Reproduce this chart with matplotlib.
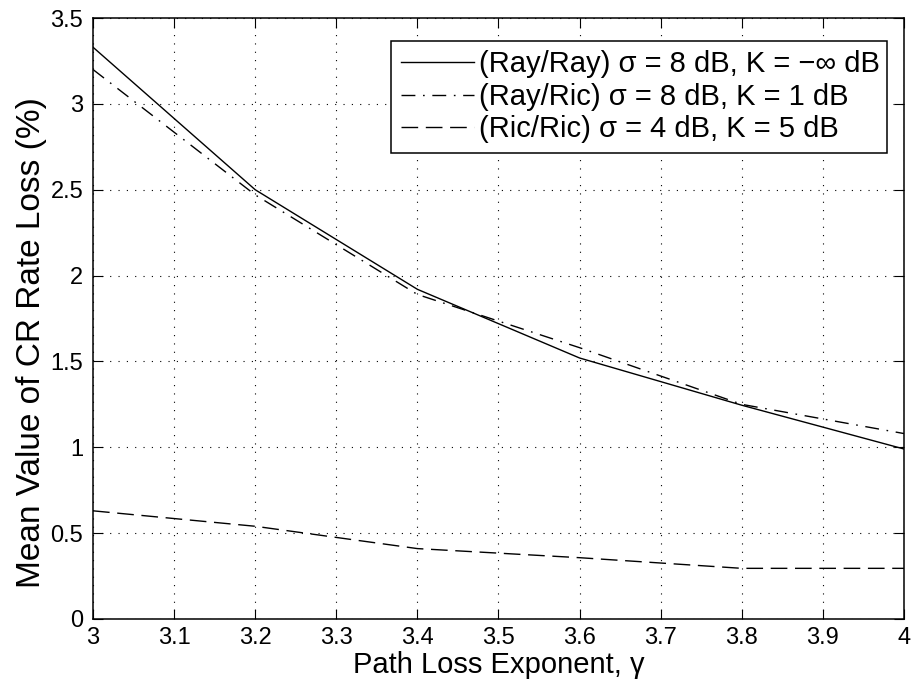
import matplotlib
matplotlib.use("Agg")
import matplotlib.pyplot as plt

gamma = [3.0, 3.2, 3.4, 3.6, 3.8, 4.0]
ray_ray = [3.33, 2.50, 1.92, 1.52, 1.245, 0.99]
ray_ric = [3.20, 2.47, 1.89, 1.58, 1.25, 1.08]
ric_ric = [0.63, 0.54, 0.41, 0.357, 0.295, 0.295]

labels = ["(Ray/Ray) σ = 8 dB, K = −∞ dB",
          "(Ray/Ric) σ = 8 dB, K = 1 dB",
          "(Ric/Ric) σ = 4 dB, K = 5 dB"]

xtick_vals = [3.0, 3.1, 3.2, 3.3, 3.4, 3.5, 3.6, 3.7, 3.8, 3.9, 4.0]
xtick_text = ['3', '3.1', '3.2', '3.3', '3.4', '3.5', '3.6', '3.7', '3.8', '3.9', '4']
ytick_vals = [0, 0.5, 1, 1.5, 2, 2.5, 3, 3.5]
ytick_text = ['0', '0.5', '1', '1.5', '2', '2.5', '3', '3.5']

plt.rcParams['font.family'] = ['Liberation Sans', 'DejaVu Sans']

fig = plt.figure(figsize=(9.11, 6.88), dpi=100)
ax = fig.add_axes([0.1021, 0.1003, 0.8902, 0.8735])

ax.plot(gamma, ray_ray, color='black', lw=1.0, linestyle='-', label=labels[0])
ax.plot(gamma, ray_ric, color='black', lw=1.0, linestyle=(0, (10, 5.5, 1.2, 5.5)), label=labels[1])
ax.plot(gamma, ric_ric, color='black', lw=1.0, linestyle=(0, (12, 5.5)), label=labels[2])

ax.set_xlim(3, 4)
ax.set_ylim(0, 3.5)
ax.set_xticks(xtick_vals)
ax.set_xticklabels(xtick_text)
ax.set_yticks(ytick_vals)
ax.set_yticklabels(ytick_text)
ax.tick_params(direction='in', top=True, right=True, labelsize=17, length=7, width=0.8)
ax.tick_params(axis='x', pad=6)
ax.tick_params(axis='y', pad=7)
ax.grid(True, linestyle=(0, (1, 6.5)), color='black', lw=0.8)
for s in ax.spines.values():
    s.set_linewidth(1.1)

ax.set_xlabel("Path Loss Exponent, γ", fontsize=21, labelpad=1)
ax.set_ylabel("Mean Value of CR Rate Loss (%)", fontsize=24)
ax.yaxis.set_label_coords(-0.057, 0.46)

leg = ax.legend(loc='upper left', bbox_to_anchor=(0.3674, 0.0, 0.6116, 0.962),
                mode='expand', borderaxespad=0, fontsize=21, fancybox=False,
                framealpha=1, edgecolor='black', handlelength=2.5,
                borderpad=0.33, labelspacing=0.15, handletextpad=0.2)
leg.get_frame().set_linewidth(1.1)

fig.savefig("out.png", dpi=100)
